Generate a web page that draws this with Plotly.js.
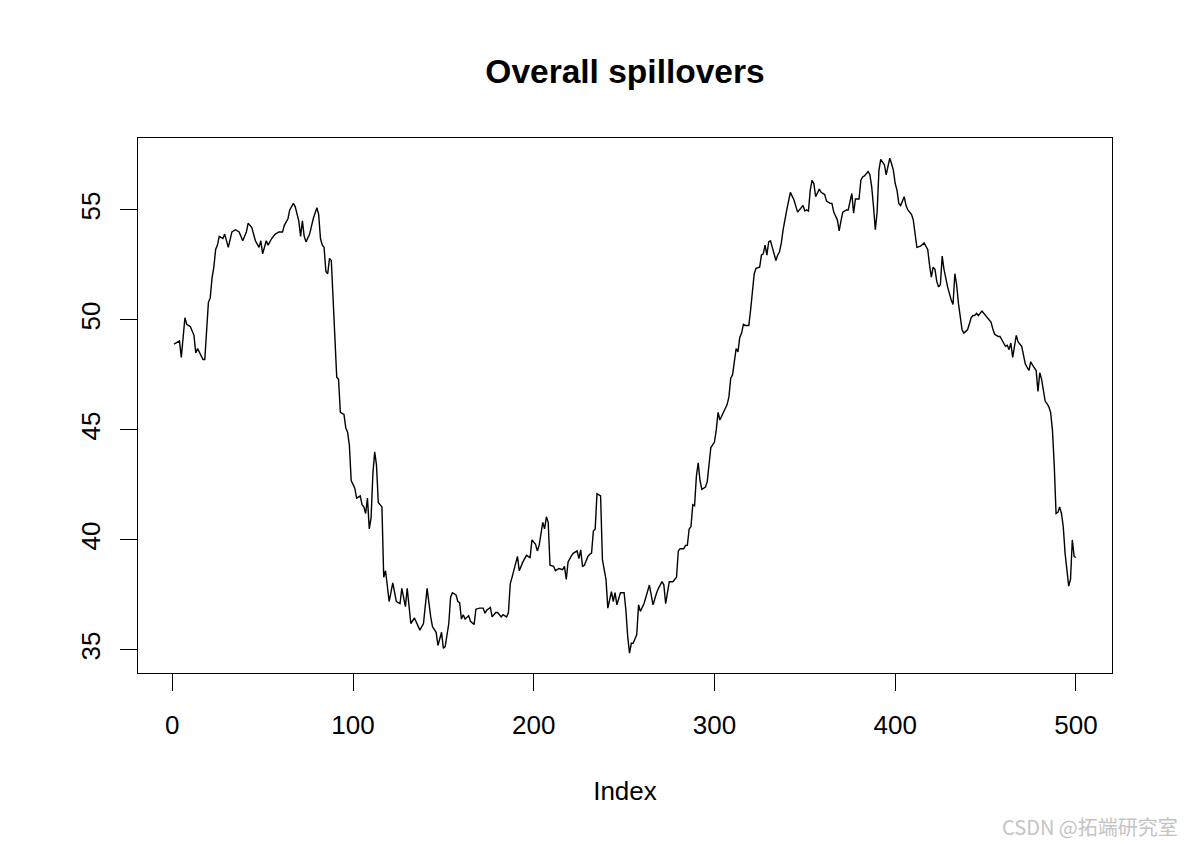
<!DOCTYPE html>
<html>
<head>
<meta charset="utf-8">
<script src="https://cdn.plot.ly/plotly-3.0.1.min.js"></script>
<style>
  html, body { margin: 0; padding: 0; background: #ffffff; }
  #chart { width: 1184px; height: 846px; }
</style>
</head>
<body>
<div id="chart"></div>
<script>
// Index positions (x axis "Index")
const index = [
  1,4,5,7,8,10,12,13,14,17,
  18,19,20,21,22,23,24,25,26,28,
  29,31,33,35,37,39,41,42,44,46,
  48,49,50,52,53,55,57,59,61,62,
  64,65,67,68,70,71,72,73,74,76,
  78,80,81,82,83,84,85,86,87,88,
  89,90,91,92,93,95,96,97,98,99,
  101,102,104,105,106,107,108,109,110,111,
  112,113,114,116,117,118,120,122,124,126,
  127,129,130,132,134,137,139,141,142,143,
  144,146,147,149,150,151,153,154,155,157,
  158,159,160,161,162,164,165,167,168,170,
  172,173,174,176,177,179,180,182,183,185,
  186,187,188,190,191,192,194,196,198,199,
  201,202,203,205,206,207,208,209,211,212,
  214,216,217,218,219,221,222,224,225,226,
  227,228,230,231,232,233,234,235,237,238,
  240,241,243,244,245,246,248,250,251,252,
  253,254,255,256,257,258,259,261,262,264,
  265,266,268,269,271,272,273,274,275,277,
  279,280,281,283,284,285,286,287,288,289,
  290,291,292,293,295,296,297,298,300,301,
  302,303,305,307,308,309,310,311,312,313,
  314,315,316,317,319,320,321,322,323,325,
  326,327,328,329,330,331,332,334,335,336,
  337,338,340,342,344,346,347,349,350,351,
  352,353,354,355,356,358,359,361,362,364,
  365,366,368,369,370,371,373,374,376,377,
  378,380,381,382,383,385,386,387,388,389,
  390,391,392,394,395,397,398,399,400,401,
  402,403,405,406,407,409,410,411,412,414,
  416,417,418,419,420,421,422,423,424,425,
  426,427,428,429,431,432,433,434,435,436,
  437,438,440,441,442,443,444,445,446,447,
  448,450,451,453,454,455,457,458,460,461,
  462,463,464,465,466,467,468,470,471,472,
  474,475,476,478,479,480,481,482,483,484,
  485,486,487,488,489,490,491,492,493,494,
  495,496,497,498,499,500
];

// Overall spillover values
const spillover = [
  48.9,49.05,48.3,50.1,49.8,49.7,49.3,48.5,48.7,48.2,
  48.2,49.6,50.8,51.0,51.9,52.4,53.2,53.4,53.8,53.7,
  53.9,53.3,54.0,54.1,54.0,53.6,54.0,54.4,54.2,53.6,
  53.3,53.6,53.0,53.6,53.4,53.7,53.9,54.0,54.0,54.3,
  54.6,55.0,55.3,55.15,54.5,53.8,54.5,53.8,53.55,53.9,
  54.6,55.1,54.8,53.7,53.4,53.3,52.2,52.1,52.8,52.7,
  51.1,49.6,47.4,47.3,45.8,45.7,45.1,44.9,44.3,42.7,
  42.35,41.9,42.0,41.6,41.5,41.2,41.9,40.5,41.0,43.0,
  44.0,43.4,41.7,41.5,38.3,38.6,37.2,38.05,37.2,37.1,
  37.8,36.97,37.8,36.2,36.45,35.9,36.2,37.8,37.1,36.5,
  36.05,35.8,35.2,35.8,35.07,35.15,36.2,37.4,37.6,37.5,
  37.2,37.15,36.4,36.6,36.4,36.55,36.3,36.15,36.85,36.9,
  36.9,36.67,36.8,36.93,36.5,36.7,36.7,36.5,36.6,36.5,
  36.7,38.0,38.3,38.9,39.25,38.6,39.0,39.3,39.2,40.0,
  39.8,39.5,39.75,40.8,40.5,41.05,40.8,38.85,38.8,38.6,
  38.7,38.65,38.8,38.2,39.0,39.3,39.4,39.5,39.15,39.55,
  38.8,38.85,39.25,39.35,39.4,40.4,40.5,42.1,42.0,39.1,
  38.2,36.9,37.65,37.2,37.6,37.05,37.6,37.6,36.8,35.6,
  34.85,35.3,35.3,35.5,35.7,37.05,36.75,37.1,37.4,37.95,
  37.5,37.05,37.6,37.8,38.1,37.95,37.1,37.6,38.1,38.1,
  38.3,39.5,39.6,39.6,39.75,39.75,40.5,40.6,41.6,41.55,
  42.9,43.5,42.7,42.3,42.4,42.65,43.5,44.2,44.45,45.0,
  45.8,45.45,45.8,46.15,46.5,47.35,47.5,48.2,48.7,48.55,
  49.2,49.4,49.8,49.75,49.75,50.45,51.2,52.1,52.35,52.4,
  52.95,53.0,53.4,52.95,53.55,53.6,53.3,52.7,52.95,53.1,
  53.5,54.1,55.0,55.8,55.45,54.9,55.0,55.2,54.95,55.0,
  54.95,55.9,56.35,56.2,55.6,55.95,55.8,55.7,55.4,55.3,
  55.3,54.9,54.55,54.05,54.5,54.9,55.0,55.0,55.75,54.85,
  55.5,55.5,56.35,56.5,56.55,56.75,56.6,56.05,55.15,54.1,
  54.9,56.8,57.3,57.05,56.6,57.35,57.1,56.8,56.2,55.9,
  55.3,55.2,55.6,55.2,55.0,54.8,54.55,53.9,53.3,53.35,
  53.5,53.35,53.2,52.5,51.95,52.4,52.3,51.75,51.5,51.6,
  52.9,52.3,51.9,51.5,50.9,50.7,52.1,51.6,50.75,50.15,
  49.55,49.4,49.55,49.8,50.1,50.2,50.2,50.3,50.2,50.3,
  50.4,50.2,50.1,49.9,49.6,49.35,49.25,49.25,48.95,48.8,
  48.85,48.65,48.95,48.3,48.8,49.3,49.0,48.8,48.4,48.0,
  47.7,48.1,47.95,47.7,46.75,47.6,47.3,46.7,46.3,46.2,
  46.05,45.8,45.0,43.4,41.2,41.25,41.5,41.2,40.6,39.4,
  38.6,37.9,38.2,40.0,39.25,39.2
];

const xTicks = [0, 100, 200, 300, 400, 500];
const yTicks = [35, 40, 45, 50, 55];

const FONT = 'Liberation Sans, Arial, sans-serif';

const trace = {
  x: index,
  y: spillover,
  type: 'scatter',
  mode: 'lines',
  line: { color: '#000000', width: 1.4 },
  hoverinfo: 'x+y'
};

const axisCommon = {
  showgrid: false,
  zeroline: false,
  showline: true,
  mirror: true,
  linecolor: '#000000',
  linewidth: 1,
  ticks: 'outside',
  ticklen: 17,
  tickwidth: 1,
  tickcolor: '#000000',
  tickfont: { family: FONT, size: 26, color: '#000000' }
};

const layout = {
  width: 1184,
  height: 846,
  paper_bgcolor: '#ffffff',
  plot_bgcolor: '#ffffff',
  margin: { l: 138, r: 72, t: 138, b: 173, pad: 0 },
  showlegend: false,
  font: { family: FONT, color: '#000000' },
  title: {
    text: '<b>Overall spillovers</b>',
    font: { family: FONT, size: 33.5, color: '#000000' },
    xref: 'paper', x: 0.5, xanchor: 'center',
    yref: 'container', y: 1 - 71 / 846, yanchor: 'middle'
  },
  xaxis: Object.assign({}, axisCommon, {
    range: [-18.96, 519.96],
    tickmode: 'array',
    tickvals: xTicks,
    ticktext: xTicks.map(String),
    ticklabelstandoff: 12,
    title: { text: 'Index', font: { family: FONT, size: 26, color: '#000000' }, standoff: 42 }
  }),
  yaxis: Object.assign({}, axisCommon, {
    range: [33.95, 58.27],
    tickmode: 'array',
    tickvals: yTicks,
    ticktext: yTicks.map(String),
    tickangle: -90,
    ticklabelstandoff: 10
  }),
  annotations: [{
    text: 'CSDN @拓端研究室',
    xref: 'paper', yref: 'paper',
    x: 1.07, y: -0.286,
    xanchor: 'right', yanchor: 'middle',
    showarrow: false,
    font: { family: 'Noto Sans CJK SC, Noto Sans, sans-serif', size: 20, color: '#c4c4c4' }
  }]
};

Plotly.newPlot('chart', [trace], layout, { displayModeBar: false, staticPlot: true });
</script>
</body>
</html>
